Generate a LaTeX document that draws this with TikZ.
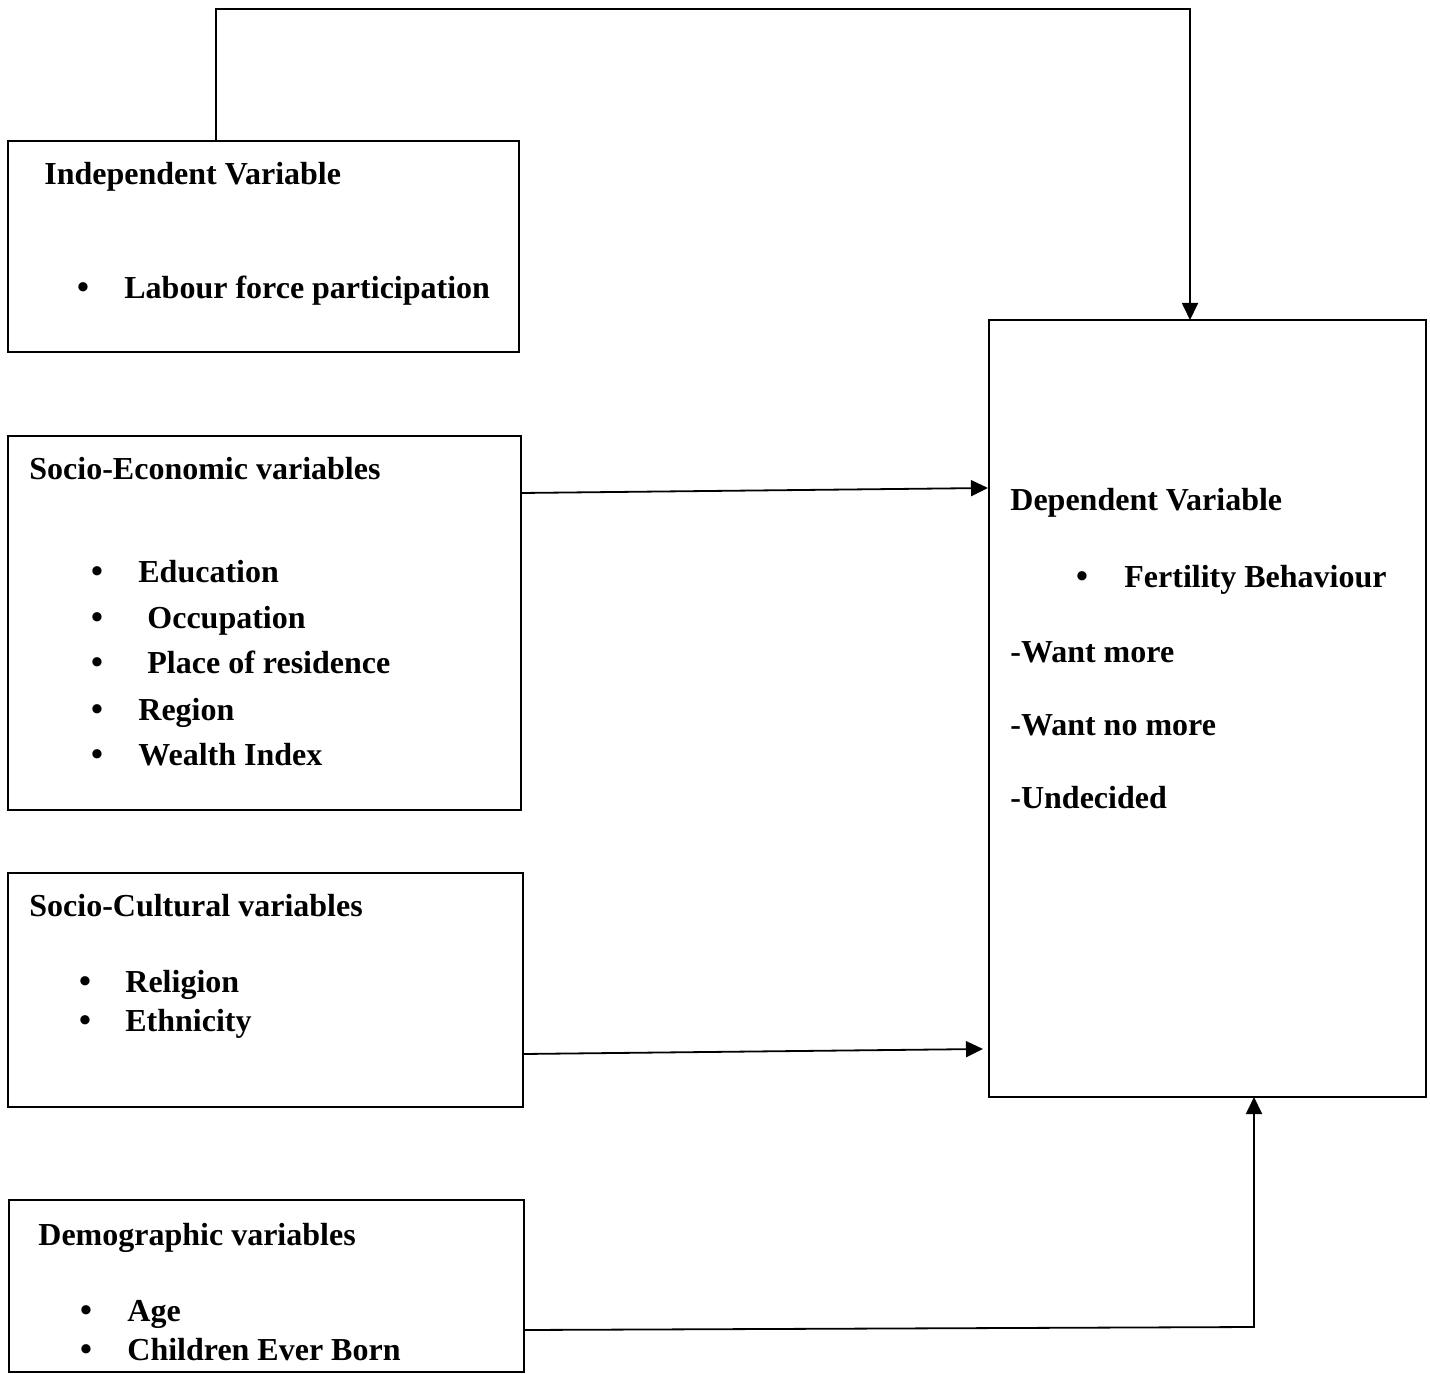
\documentclass[tikz,border=0pt]{standalone}
\usepackage{fontspec}
\setmainfont{Liberation Serif}
\usetikzlibrary{arrows.meta,fit}
\begin{document}
\begin{tikzpicture}[x=0.5pt,y=-0.5pt,
  box/.style={draw, line width=0.9pt, inner sep=0pt},
  lbl/.style={anchor=base west, inner sep=0pt, font=\fontsize{16}{19}\selectfont\bfseries},
  bul/.style={anchor=base, inner sep=0pt, font=\fontsize{17}{19}\selectfont\bfseries},
  ln/.style={line width=0.9pt},
  arr/.style={line width=0.9pt, -{Triangle[length=8.5pt,width=8pt]}}]
\useasboundingbox (0,0) rectangle (1430,1374);

% boxes
\node[box, fit={(8,141) (519,352)}] (ind) {};
\node[box, fit={(8,436) (521,810)}] (se) {};
\node[box, fit={(8,873) (523,1107)}] (sc) {};
\node[box, fit={(9,1200) (524,1372)}] (dem) {};
\node[box, fit={(989,320) (1426,1097)}] (dep) {};

% independent
\node[lbl] (t1) at (44,185) {Independent Variable};
\node[bul] (b11) at (83,299) {•};
\node[lbl] (i11) at (124,299) {Labour force participation};

% socio-economic
\node[lbl] (t2) at (29,480) {Socio-Economic variables};
\node[bul] (b21) at (97,582) {•};
\node[lbl] (i21) at (138,582) {Education};
\node[bul] (b22) at (97,628) {•};
\node[lbl] (i22) at (147,628) {Occupation};
\node[bul] (b23) at (97,673) {•};
\node[lbl] (i23) at (147,673) {Place of residence};
\node[bul] (b24) at (97,720) {•};
\node[lbl] (i24) at (138,720) {Region};
\node[bul] (b25) at (97,765) {•};
\node[lbl] (i25) at (138,765) {Wealth Index};

% socio-cultural
\node[lbl] (t3) at (29,916) {Socio-Cultural variables};
\node[bul] (b31) at (85,992) {•};
\node[lbl] (i31) at (125,992) {Religion};
\node[bul] (b32) at (85,1031) {•};
\node[lbl] (i32) at (125,1031) {Ethnicity};

% demographic
\node[lbl] (t4) at (38,1245) {Demographic variables};
\node[bul] (b41) at (86,1321) {•};
\node[lbl] (i41) at (127,1321) {Age};
\node[bul] (b42) at (86,1360) {•};
\node[lbl] (i42) at (127,1360) {Children Ever Born};

% dependent
\node[lbl] (t5) at (1010,510) {Dependent Variable};
\node[bul] (b51) at (1082,587) {•};
\node[lbl] (i51) at (1124,587) {Fertility Behaviour};
\node[lbl] (i52) at (1010,662) {-Want more};
\node[lbl] (i53) at (1010,735) {-Want no more};
\node[lbl] (i54) at (1010,808) {-Undecided};

% connectors
\coordinate (c1) at (216,141);
\coordinate (c2) at (216,9);
\coordinate (c3) at (1190,9);
\coordinate (c4) at (1190,320);
\draw[arr] (c1) -- (c2) -- (c3) -- (c4);

\coordinate (s1) at (521,493);
\coordinate (s2) at (988,488);
\draw[arr] (s1) -- (s2);

\coordinate (u1) at (523,1054);
\coordinate (u2) at (983,1049);
\draw[arr] (u1) -- (u2);

\coordinate (d1) at (524,1330);
\coordinate (d2) at (1254,1327);
\coordinate (d3) at (1254,1097);
\draw[arr] (d1) -- (d2) -- (d3);
\end{tikzpicture}
\end{document}
